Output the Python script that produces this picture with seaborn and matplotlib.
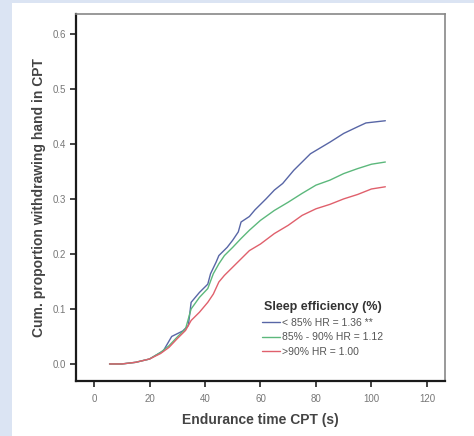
import pandas as pd
import matplotlib.pyplot as plt
import seaborn as sns
from matplotlib.patches import Rectangle
from matplotlib.lines import Line2D

# values
groups = ["< 85% HR = 1.36 **", "85% - 90% HR = 1.12", ">90% HR = 1.00"]
colors = ["#5866a6", "#5cb87c", "#e0606c"]

time_low = [5.6, 10, 15, 20, 25, 28, 32, 34, 35, 38, 41, 42, 44, 45, 48, 50, 52, 53, 56, 58,
            60, 62, 65, 68, 70, 72, 75, 78, 80, 85, 90, 95, 98, 105]
prop_low = [0.0, 0.0, 0.003, 0.009, 0.024, 0.05, 0.06, 0.07, 0.112, 0.13, 0.145, 0.164, 0.185,
            0.197, 0.212, 0.225, 0.24, 0.258, 0.268, 0.28, 0.29, 0.30, 0.316, 0.328, 0.34,
            0.352, 0.367, 0.382, 0.388, 0.403, 0.419, 0.431, 0.438, 0.442]

time_mid = [5.6, 10, 15, 20, 24, 27, 30, 33, 35, 38, 41, 43, 45, 47, 50, 53, 56, 60, 65, 70,
            75, 80, 85, 90, 95, 100, 105]
prop_mid = [0.0, 0.0, 0.003, 0.009, 0.021, 0.033, 0.049, 0.064, 0.10, 0.121, 0.137, 0.164,
            0.182, 0.197, 0.212, 0.228, 0.243, 0.261, 0.279, 0.294, 0.31, 0.325, 0.334, 0.346,
            0.355, 0.363, 0.367]

time_high = [5.6, 10, 15, 20, 24, 27, 30, 33, 35, 38, 41, 43, 45, 47, 50, 53, 56, 60, 65, 70,
             75, 80, 85, 90, 95, 100, 105]
prop_high = [0.0, 0.0, 0.003, 0.009, 0.019, 0.03, 0.046, 0.061, 0.079, 0.094, 0.112, 0.127,
             0.149, 0.161, 0.176, 0.191, 0.206, 0.218, 0.237, 0.252, 0.27, 0.282, 0.29, 0.30,
             0.308, 0.318, 0.322]

df = pd.concat([
    pd.DataFrame({"time": time_low, "prop": prop_low, "group": groups[0]}),
    pd.DataFrame({"time": time_mid, "prop": prop_mid, "group": groups[1]}),
    pd.DataFrame({"time": time_high, "prop": prop_high, "group": groups[2]}),
])

sns.set_style("white")
plt.rcParams["font.family"] = ["Liberation Sans", "DejaVu Sans"]

fig = plt.figure(figsize=(4.74, 4.36), dpi=100, facecolor="#dbe4f3")
fig.patches.append(Rectangle((12 / 474, 0), 1, 1 - 3 / 436, transform=fig.transFigure,
                             facecolor="white", edgecolor="none", zorder=-10))
ax = fig.add_axes([0.1603, 0.1261, 0.7785, 0.8418])
ax.set_facecolor("white")

sns.lineplot(data=df, x="time", y="prop", hue="group", palette=colors,
             estimator=None, sort=True, linewidth=1.0, legend=False, ax=ax)

ax.set_xlim(-6.5, 126.5)
ax.set_ylim(-0.031, 0.636)
ax.set_xticks(range(0, 121, 20))
ax.set_yticks([0.0, 0.1, 0.2, 0.3, 0.4, 0.5, 0.6])
ax.set_yticklabels([f"{v:.1f}" for v in ax.get_yticks()])
ax.tick_params(axis="both", direction="out", length=4, width=1.2, color="#222222",
               labelsize=7, labelcolor="#777777", pad=3)
ax.tick_params(axis="x", pad=5)
ax.tick_params(left=True, bottom=True)

for side in ["left", "bottom"]:
    ax.spines[side].set_color("#1a1a1a")
    ax.spines[side].set_linewidth(1.6)
for side in ["top", "right"]:
    ax.spines[side].set_color("#888888")
    ax.spines[side].set_linewidth(1.2)

ax.set_xlabel("Endurance time CPT (s)", fontsize=10, fontweight="bold", color="#444444", labelpad=7)
ax.set_ylabel("Cum. proportion withdrawing hand in CPT", fontsize=10, fontweight="bold",
              color="#444444", labelpad=5)

handles = [Line2D([0], [0], color=c, linewidth=1.0) for c in colors]
leg = ax.legend(handles, groups, title="Sleep efficiency (%)", loc="upper left",
                bbox_to_anchor=(0.505, 0.218), borderaxespad=0, borderpad=0,
                frameon=False, fontsize=7.5, handlelength=1.7,
                handletextpad=0.2, labelspacing=0.45)
leg.get_title().set_fontweight("bold")
leg.get_title().set_fontsize(9)
leg.get_title().set_color("#333333")
for t in leg.get_texts():
    t.set_color("#555555")

plt.savefig("out.png", dpi=100, facecolor=fig.get_facecolor())
